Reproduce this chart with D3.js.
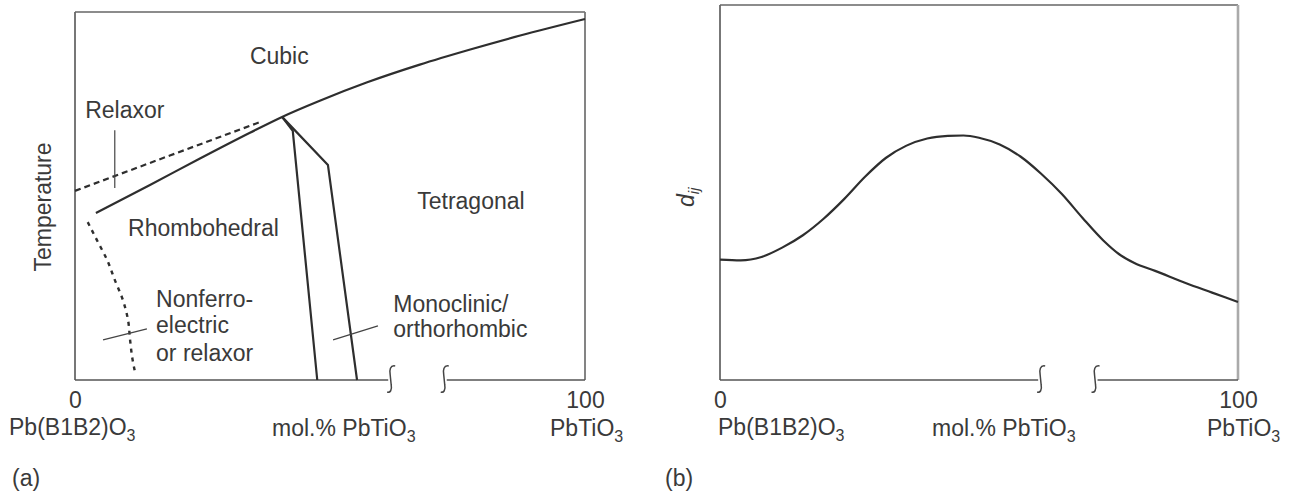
<!DOCTYPE html>
<html><head><meta charset="utf-8">
<script src="https://cdn.jsdelivr.net/npm/d3@7"></script>
<style>
html,body{margin:0;padding:0;background:#fff;}
svg text{font-family:"Liberation Sans",Arial,sans-serif;fill:#3a3a3a;}
</style></head>
<body>
<svg id="c" width="1293" height="493"></svg>
<script>
// ---------- data (x: mol.% PbTiO3, y: relative scale 0-100) ----------
const xTickValues = [0, 100];
const xTickLabels = ["0", "100"];
const endLabels = ["Pb(B1B2)O", "PbTiO"];
const axisTitle = "mol.% PbTiO";
const breakPos = [62, 72.5];

// Panel (a): phase diagram
const tcLine = [[4.1,45.4],[14.7,53.0],[24.5,60.2],[34.3,67.2],[40.6,71.5],[48.0,75.9],[57.3,80.9],[67.6,85.7],[77.5,89.8],[87.3,93.6],[100,98.1]];
const relaxorLine = [[0,51.4],[18.6,61.0],[36.3,70.1]];
const nfBoundary = [[2.5,42.9],[4.3,38.0],[6.3,32.6],[7.8,27.2],[9.4,21.7],[10.4,16.3],[10.8,10.9],[11.2,6.3],[11.8,1.9]];
const mpbLeft = [[40.6,71.5],[42.7,67.7],[47.5,0]];
const mpbRight = [[40.6,71.5],[49.6,58.4],[55.3,0]];
const relaxorPointer = [[7.8,67.9],[7.8,52.2]];
const nfPointer = [[5.5,10.9],[14.1,13.9]];
const monoPointer = [[50.6,10.9],[59.4,14.7]];
const phaseLabels = [
  {t:"Cubic", x:34.3, y:85.9},
  {t:"Relaxor", x:2.0, y:71.2},
  {t:"Rhombohedral", x:10.4, y:39.1},
  {t:"Tetragonal", x:67.1, y:46.5},
  {t:"Nonferro-", x:15.9, y:19.8},
  {t:"electric", x:15.9, y:12.8},
  {t:"or relaxor", x:15.9, y:5.2},
  {t:"Monoclinic/", x:62.4, y:18.5},
  {t:"orthorhombic", x:62.4, y:11.7}
];

// Panel (b): piezoelectric coefficient
const dijCurve = [[0,32.1],[4,31.9],[8,32.8],[12,35.3],[16,38.6],[20,43.0],[24,48.3],[28,54.2],[32,59.2],[36,62.5],[40,64.4],[44,65.1],[47,65.2],[50,64.6],[54,62.8],[58,59.6],[62,55.0],[66,49.6],[70,43.2],[74,37.2],[77,33.6],[80,31.2],[84,29.1],[90,25.8],[95,23.3],[100,20.8]];

// ---------- drawing ----------
const svg = d3.select("#c");
const INK = "#2e2e2e";
const FS = 23;

function panel(cfg){
  const x = d3.scaleLinear().domain([0,100]).range([cfg.x0, cfg.x1]);
  const y = d3.scaleLinear().domain([0,100]).range([cfg.y0, cfg.y1]);
  const g = svg.append("g");
  g.append("line").attr("x1",x(0)).attr("x2",x(0)).attr("y1",y(0)).attr("y2",y(100)).attr("stroke","#555").attr("stroke-width",1.6);
  g.append("line").attr("x1",x(0)).attr("x2",x(100)).attr("y1",y(100)).attr("y2",y(100)).attr("stroke","#666").attr("stroke-width",1.6);
  g.append("line").attr("x1",x(100)).attr("x2",x(100)).attr("y1",y(0)).attr("y2",y(100)).attr("stroke",cfg.rightColor).attr("stroke-width",cfg.rightWidth);
  g.append("line").attr("x1",x(0)).attr("x2",x(breakPos[0])-3).attr("y1",y(0)).attr("y2",y(0)).attr("stroke","#555").attr("stroke-width",1.6);
  g.append("line").attr("x1",x(breakPos[1])+2).attr("x2",x(100)).attr("y1",y(0)).attr("y2",y(0)).attr("stroke","#555").attr("stroke-width",1.6);
  breakPos.forEach(b=>{
    const cx = x(b), cy = y(0);
    g.append("path")
     .attr("d",`M${cx+4},${cy-14} C${cx-1},${cy-15} ${cx-2},${cy-10} ${cx-1},${cy-5} L${cx},${cy+5} C${cx+1},${cy+10} ${cx-1},${cy+13} ${cx-4},${cy+12}`)
     .attr("fill","none").attr("stroke","#444").attr("stroke-width",1.5);
  });
  const ax = g.append("g").attr("transform",`translate(0,${y(0)})`)
    .call(d3.axisBottom(x).tickValues(xTickValues).tickSize(0).tickPadding(12).tickFormat((d,i)=>xTickLabels[i]));
  ax.select(".domain").remove();
  ax.selectAll("text").attr("font-size",FS).attr("font-family","Liberation Sans, Arial, sans-serif").attr("fill","#3a3a3a");
  function sub(base, px, py){
    const t = g.append("text").attr("x",px).attr("y",py).attr("font-size",FS);
    t.append("tspan").text(base);
    t.append("tspan").attr("font-size",16).attr("dy",6).text("3");
    return t;
  }
  sub(endLabels[0], cfg.leftLabelX, 435);
  sub(axisTitle, cfg.titleX, 436);
  sub(endLabels[1], cfg.rightLabelX, 436);
  g.append("text").attr("x",cfg.panelLabelX).attr("y",486).attr("font-size",FS).text(cfg.panelLabel);
  return {x, y, g};
}

// Panel (a)
const A = panel({x0:75, x1:585, y0:380, y1:12, rightColor:"#777", rightWidth:1.8,
  leftLabelX:9, titleX:272, rightLabelX:550, panelLabelX:12, panelLabel:"(a)"});
const lineA = d3.line().x(d=>A.x(d[0])).y(d=>A.y(d[1]));
const lineAc = d3.line().x(d=>A.x(d[0])).y(d=>A.y(d[1])).curve(d3.curveMonotoneX);
const lineAy = d3.line().x(d=>A.x(d[0])).y(d=>A.y(d[1])).curve(d3.curveMonotoneY);
A.g.append("path").attr("d",lineAc(tcLine)).attr("fill","none").attr("stroke",INK).attr("stroke-width",2.2);
A.g.append("path").attr("d",lineA(relaxorLine)).attr("fill","none").attr("stroke",INK).attr("stroke-width",2.2).attr("stroke-dasharray","6,4");
A.g.append("path").attr("d",lineAy(nfBoundary)).attr("fill","none").attr("stroke",INK).attr("stroke-width",2.4).attr("stroke-dasharray","4,5");
A.g.append("path").attr("d",lineA(mpbLeft)).attr("fill","none").attr("stroke",INK).attr("stroke-width",2.2).attr("stroke-linejoin","round");
A.g.append("path").attr("d",lineA(mpbRight)).attr("fill","none").attr("stroke",INK).attr("stroke-width",2.2).attr("stroke-linejoin","round");
[relaxorPointer, nfPointer, monoPointer].forEach(p=>{
  A.g.append("path").attr("d",lineA(p)).attr("fill","none").attr("stroke","#444").attr("stroke-width",1.2);
});
phaseLabels.forEach(l=>{
  A.g.append("text").attr("x",A.x(l.x)).attr("y",A.y(l.y)).attr("font-size",FS).text(l.t);
});
svg.append("text").attr("transform","translate(51,207) rotate(-90)").attr("text-anchor","middle").attr("font-size",FS).text("Temperature");

// Panel (b)
const B = panel({x0:720, x1:1238, y0:380, y1:5, rightColor:"#aaa", rightWidth:2.6,
  leftLabelX:718, titleX:932, rightLabelX:1207, panelLabelX:665, panelLabel:"(b)"});
const lineB = d3.line().x(d=>B.x(d[0])).y(d=>B.y(d[1])).curve(d3.curveMonotoneX);
B.g.append("path").attr("d",lineB(dijCurve)).attr("fill","none").attr("stroke",INK).attr("stroke-width",2.2);
const dl = svg.append("text").attr("transform","translate(694,207) rotate(-90)").attr("font-size",FS).attr("font-style","italic");
dl.append("tspan").text("d");
dl.append("tspan").attr("font-size",15).attr("dy",5).text("ij");
</script>
</body></html>
